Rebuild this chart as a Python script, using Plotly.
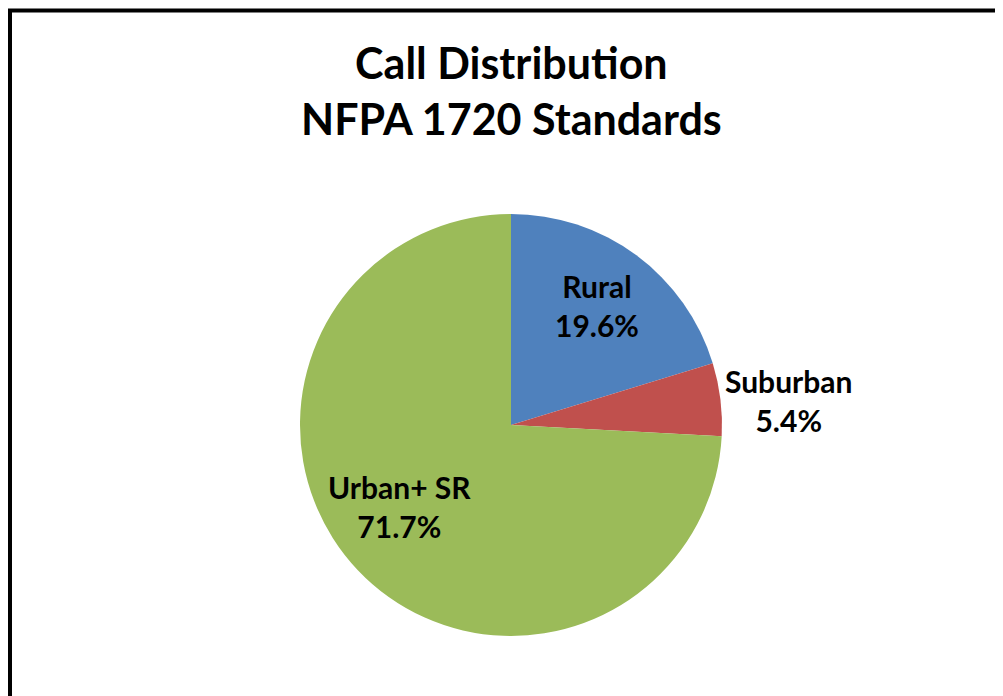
import plotly.graph_objects as go

categories = ["Rural", "Suburban", "Urban+ SR"]
values = [19.6, 5.4, 71.7]
pct_labels = ["19.6%", "5.4%", "71.7%"]
colors = ["#4F81BD", "#C0504D", "#9BBB59"]
title_lines = ["Call Distribution", "NFPA 1720 Standards"]

W, H = 1003, 696
OFF = 8  # page body margin offset
cx, cy, r = 511 - OFF, 425 - OFF, 211

fig = go.Figure(go.Pie(
    labels=categories,
    values=values,
    sort=False,
    direction="clockwise",
    rotation=0,
    marker=dict(colors=colors, line=dict(width=0)),
    textinfo="none",
    hoverinfo="label+value",
    showlegend=False,
    domain=dict(x=[(cx - r) / W, (cx + r) / W], y=[1 - (cy + r) / H, 1 - (cy - r) / H]),
))

label_pos = [(597, 305), (788, 400), (399, 506)]
font = "Lato, 'Open Sans', sans-serif"
for cat, pct, (x, y) in zip(categories, pct_labels, label_pos):
    fig.add_annotation(x=(x - OFF) / W, y=1 - (y - OFF) / H, xref="paper", yref="paper",
                       text=f"<b>{cat}</b><br><b>{pct}</b>", showarrow=False,
                       font=dict(family=font, size=30, color="black"),
                       align="center", xanchor="center", yanchor="middle")

fig.add_annotation(x=(511 - OFF) / W, y=1 - (91 - OFF) / H, xref="paper", yref="paper",
                   text="<b>" + "</b><br><b>".join(title_lines) + "</b>", showarrow=False,
                   font=dict(family=font, size=43, color="black"),
                   align="center", xanchor="center", yanchor="middle")

# chart frame
fig.add_shape(type="line", xref="paper", yref="paper", x0=(9 - OFF) / W, x1=(9 - OFF) / W,
              y0=0, y1=1 - (9 - OFF) / H, line=dict(color="black", width=6))
fig.add_shape(type="line", xref="paper", yref="paper", x0=0, x1=1,
              y0=1 - (10.5 - OFF) / H, y1=1 - (10.5 - OFF) / H, line=dict(color="black", width=4))

fig.update_layout(width=W, height=H, margin=dict(l=0, r=0, t=0, b=0),
                  paper_bgcolor="white", plot_bgcolor="white")

fig.write_html("out.html")
